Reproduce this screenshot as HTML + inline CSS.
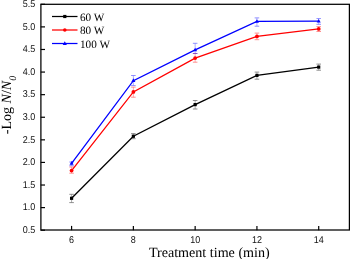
<!DOCTYPE html><html><head><meta charset="utf-8"><style>html,body{margin:0;padding:0;background:#fff;width:350px;height:259px;overflow:hidden}svg{display:block;will-change:transform;text-rendering:geometricPrecision}</style></head><body>
<svg width="350" height="259" viewBox="0 0 350 259">
<rect x="40.9" y="4.3" width="308.5" height="225.7" fill="none" stroke="#000" stroke-width="1.25"/>
<line x1="40.7" y1="230.20" x2="45.00" y2="230.20" stroke="#000" stroke-width="1.2"/>
<text transform="translate(35.3,233.00) scale(1,1.1)" text-anchor="end" style="font-family:&quot;Liberation Sans&quot;,sans-serif" font-size="9" fill="#111">0.5</text>
<line x1="40.7" y1="207.61" x2="45.00" y2="207.61" stroke="#000" stroke-width="1.2"/>
<text transform="translate(35.3,210.41) scale(1,1.1)" text-anchor="end" style="font-family:&quot;Liberation Sans&quot;,sans-serif" font-size="9" fill="#111">1.0</text>
<line x1="40.7" y1="185.02" x2="45.00" y2="185.02" stroke="#000" stroke-width="1.2"/>
<text transform="translate(35.3,187.82) scale(1,1.1)" text-anchor="end" style="font-family:&quot;Liberation Sans&quot;,sans-serif" font-size="9" fill="#111">1.5</text>
<line x1="40.7" y1="162.43" x2="45.00" y2="162.43" stroke="#000" stroke-width="1.2"/>
<text transform="translate(35.3,165.23) scale(1,1.1)" text-anchor="end" style="font-family:&quot;Liberation Sans&quot;,sans-serif" font-size="9" fill="#111">2.0</text>
<line x1="40.7" y1="139.84" x2="45.00" y2="139.84" stroke="#000" stroke-width="1.2"/>
<text transform="translate(35.3,142.64) scale(1,1.1)" text-anchor="end" style="font-family:&quot;Liberation Sans&quot;,sans-serif" font-size="9" fill="#111">2.5</text>
<line x1="40.7" y1="117.25" x2="45.00" y2="117.25" stroke="#000" stroke-width="1.2"/>
<text transform="translate(35.3,120.05) scale(1,1.1)" text-anchor="end" style="font-family:&quot;Liberation Sans&quot;,sans-serif" font-size="9" fill="#111">3.0</text>
<line x1="40.7" y1="94.66" x2="45.00" y2="94.66" stroke="#000" stroke-width="1.2"/>
<text transform="translate(35.3,97.46) scale(1,1.1)" text-anchor="end" style="font-family:&quot;Liberation Sans&quot;,sans-serif" font-size="9" fill="#111">3.5</text>
<line x1="40.7" y1="72.07" x2="45.00" y2="72.07" stroke="#000" stroke-width="1.2"/>
<text transform="translate(35.3,74.87) scale(1,1.1)" text-anchor="end" style="font-family:&quot;Liberation Sans&quot;,sans-serif" font-size="9" fill="#111">4.0</text>
<line x1="40.7" y1="49.48" x2="45.00" y2="49.48" stroke="#000" stroke-width="1.2"/>
<text transform="translate(35.3,52.28) scale(1,1.1)" text-anchor="end" style="font-family:&quot;Liberation Sans&quot;,sans-serif" font-size="9" fill="#111">4.5</text>
<line x1="40.7" y1="26.89" x2="45.00" y2="26.89" stroke="#000" stroke-width="1.2"/>
<text transform="translate(35.3,29.69) scale(1,1.1)" text-anchor="end" style="font-family:&quot;Liberation Sans&quot;,sans-serif" font-size="9" fill="#111">5.0</text>
<line x1="40.7" y1="4.30" x2="45.00" y2="4.30" stroke="#000" stroke-width="1.2"/>
<text transform="translate(35.3,7.10) scale(1,1.1)" text-anchor="end" style="font-family:&quot;Liberation Sans&quot;,sans-serif" font-size="9" fill="#111">5.5</text>
<line x1="71.59" y1="230.2" x2="71.59" y2="225.90" stroke="#000" stroke-width="1.2"/>
<text transform="translate(71.59,242.7) scale(1,1.1)" text-anchor="middle" style="font-family:&quot;Liberation Sans&quot;,sans-serif" font-size="9" fill="#111">6</text>
<line x1="133.37" y1="230.2" x2="133.37" y2="225.90" stroke="#000" stroke-width="1.2"/>
<text transform="translate(133.37,242.7) scale(1,1.1)" text-anchor="middle" style="font-family:&quot;Liberation Sans&quot;,sans-serif" font-size="9" fill="#111">8</text>
<line x1="195.15" y1="230.2" x2="195.15" y2="225.90" stroke="#000" stroke-width="1.2"/>
<text transform="translate(195.15,242.7) scale(1,1.1)" text-anchor="middle" style="font-family:&quot;Liberation Sans&quot;,sans-serif" font-size="9" fill="#111">10</text>
<line x1="256.93" y1="230.2" x2="256.93" y2="225.90" stroke="#000" stroke-width="1.2"/>
<text transform="translate(256.93,242.7) scale(1,1.1)" text-anchor="middle" style="font-family:&quot;Liberation Sans&quot;,sans-serif" font-size="9" fill="#111">12</text>
<line x1="318.71" y1="230.2" x2="318.71" y2="225.90" stroke="#000" stroke-width="1.2"/>
<text transform="translate(318.71,242.7) scale(1,1.1)" text-anchor="middle" style="font-family:&quot;Liberation Sans&quot;,sans-serif" font-size="9" fill="#111">14</text>
<g stroke="#000000" stroke-width="0.8" opacity="0.55"><line x1="71.59" y1="194.3" x2="71.59" y2="202.6" stroke-width="0.6"/><line x1="69.29" y1="194.3" x2="73.89" y2="194.3"/><line x1="69.29" y1="202.6" x2="73.89" y2="202.6"/></g>
<g stroke="#000000" stroke-width="0.8" opacity="0.55"><line x1="133.37" y1="133.6" x2="133.37" y2="138.7" stroke-width="0.6"/><line x1="131.07" y1="133.6" x2="135.67" y2="133.6"/><line x1="131.07" y1="138.7" x2="135.67" y2="138.7"/></g>
<g stroke="#000000" stroke-width="0.8" opacity="0.55"><line x1="195.15" y1="100.5" x2="195.15" y2="109.0" stroke-width="0.6"/><line x1="192.85" y1="100.5" x2="197.45" y2="100.5"/><line x1="192.85" y1="109.0" x2="197.45" y2="109.0"/></g>
<g stroke="#000000" stroke-width="0.8" opacity="0.55"><line x1="256.93" y1="72.1" x2="256.93" y2="79.2" stroke-width="0.6"/><line x1="254.63" y1="72.1" x2="259.23" y2="72.1"/><line x1="254.63" y1="79.2" x2="259.23" y2="79.2"/></g>
<g stroke="#000000" stroke-width="0.8" opacity="0.55"><line x1="318.71" y1="64.1" x2="318.71" y2="70.2" stroke-width="0.6"/><line x1="316.41" y1="64.1" x2="321.01" y2="64.1"/><line x1="316.41" y1="70.2" x2="321.01" y2="70.2"/></g>
<g stroke="#ff0000" stroke-width="0.8" opacity="0.55"><line x1="71.59" y1="167.0" x2="71.59" y2="173.2" stroke-width="0.6"/><line x1="69.29" y1="167.0" x2="73.89" y2="167.0"/><line x1="69.29" y1="173.2" x2="73.89" y2="173.2"/></g>
<g stroke="#ff0000" stroke-width="0.8" opacity="0.55"><line x1="133.37" y1="87.1" x2="133.37" y2="97.2" stroke-width="0.6"/><line x1="131.07" y1="87.1" x2="135.67" y2="87.1"/><line x1="131.07" y1="97.2" x2="135.67" y2="97.2"/></g>
<g stroke="#ff0000" stroke-width="0.8" opacity="0.55"><line x1="195.15" y1="53.5" x2="195.15" y2="62.2" stroke-width="0.6"/><line x1="192.85" y1="53.5" x2="197.45" y2="53.5"/><line x1="192.85" y1="62.2" x2="197.45" y2="62.2"/></g>
<g stroke="#ff0000" stroke-width="0.8" opacity="0.55"><line x1="256.93" y1="33.1" x2="256.93" y2="39.7" stroke-width="0.6"/><line x1="254.63" y1="33.1" x2="259.23" y2="33.1"/><line x1="254.63" y1="39.7" x2="259.23" y2="39.7"/></g>
<g stroke="#ff0000" stroke-width="0.8" opacity="0.55"><line x1="318.71" y1="26.6" x2="318.71" y2="31.5" stroke-width="0.6"/><line x1="316.41" y1="26.6" x2="321.01" y2="26.6"/><line x1="316.41" y1="31.5" x2="321.01" y2="31.5"/></g>
<g stroke="#0000ff" stroke-width="0.8" opacity="0.55"><line x1="71.59" y1="162.0" x2="71.59" y2="165.7" stroke-width="0.6"/><line x1="69.29" y1="162.0" x2="73.89" y2="162.0"/><line x1="69.29" y1="165.7" x2="73.89" y2="165.7"/></g>
<g stroke="#0000ff" stroke-width="0.8" opacity="0.55"><line x1="133.37" y1="75.5" x2="133.37" y2="85.6" stroke-width="0.6"/><line x1="131.07" y1="75.5" x2="135.67" y2="75.5"/><line x1="131.07" y1="85.6" x2="135.67" y2="85.6"/></g>
<g stroke="#0000ff" stroke-width="0.8" opacity="0.55"><line x1="195.15" y1="43.3" x2="195.15" y2="53.5" stroke-width="0.6"/><line x1="192.85" y1="43.3" x2="197.45" y2="43.3"/><line x1="192.85" y1="53.5" x2="197.45" y2="53.5"/></g>
<g stroke="#0000ff" stroke-width="0.8" opacity="0.55"><line x1="256.93" y1="17.9" x2="256.93" y2="26.2" stroke-width="0.6"/><line x1="254.63" y1="17.9" x2="259.23" y2="17.9"/><line x1="254.63" y1="26.2" x2="259.23" y2="26.2"/></g>
<g stroke="#0000ff" stroke-width="0.8" opacity="0.55"><line x1="318.71" y1="18.4" x2="318.71" y2="24.3" stroke-width="0.6"/><line x1="316.41" y1="18.4" x2="321.01" y2="18.4"/><line x1="316.41" y1="24.3" x2="321.01" y2="24.3"/></g>
<polyline points="71.59,198.30 133.37,136.23 195.15,104.60 256.93,75.41 318.71,67.10" fill="none" stroke="#000000" stroke-width="1.3"/>
<rect x="69.99" y="196.70" width="3.2" height="3.2" fill="#000"/>
<rect x="131.77" y="134.63" width="3.2" height="3.2" fill="#000"/>
<rect x="193.55" y="103.00" width="3.2" height="3.2" fill="#000"/>
<rect x="255.33" y="73.81" width="3.2" height="3.2" fill="#000"/>
<rect x="317.11" y="65.50" width="3.2" height="3.2" fill="#000"/>
<polyline points="71.59,170.56 133.37,91.95 195.15,58.06 256.93,36.38 318.71,28.92" fill="none" stroke="#ff0000" stroke-width="1.3"/>
<circle cx="71.59" cy="170.56" r="1.9" fill="#f00"/>
<circle cx="133.37" cy="91.95" r="1.9" fill="#f00"/>
<circle cx="195.15" cy="58.06" r="1.9" fill="#f00"/>
<circle cx="256.93" cy="36.38" r="1.9" fill="#f00"/>
<circle cx="318.71" cy="28.92" r="1.9" fill="#f00"/>
<polyline points="71.59,163.33 133.37,80.65 195.15,49.93 256.93,21.47 318.71,21.20" fill="none" stroke="#0000ff" stroke-width="1.3"/>
<path d="M71.59,161.03 L73.59,164.73 L69.59,164.73 Z" fill="#00f"/>
<path d="M133.37,78.35 L135.37,82.05 L131.37,82.05 Z" fill="#00f"/>
<path d="M195.15,47.63 L197.15,51.33 L193.15,51.33 Z" fill="#00f"/>
<path d="M256.93,19.17 L258.93,22.87 L254.93,22.87 Z" fill="#00f"/>
<path d="M318.71,18.90 L320.71,22.60 L316.71,22.60 Z" fill="#00f"/>
<line x1="52" y1="16.5" x2="77.5" y2="16.5" stroke="#000000" stroke-width="1.25"/>
<rect x="63.20" y="14.90" width="3.2" height="3.2" fill="#000"/>
<text x="80" y="20.50" style="font-family:&quot;Liberation Serif&quot;,serif" font-size="11.2" fill="#000">60 W</text>
<line x1="52" y1="30.0" x2="77.5" y2="30.0" stroke="#ff0000" stroke-width="1.25"/>
<circle cx="64.80" cy="30.00" r="1.8" fill="#f00"/>
<text x="80" y="34.00" style="font-family:&quot;Liberation Serif&quot;,serif" font-size="11.2" fill="#000">80 W</text>
<line x1="52" y1="43.5" x2="77.5" y2="43.5" stroke="#0000ff" stroke-width="1.25"/>
<path d="M64.80,41.30 L66.90,44.90 L62.70,44.90 Z" fill="#00f"/>
<text x="80" y="47.50" style="font-family:&quot;Liberation Serif&quot;,serif" font-size="11.2" fill="#000">100 W</text>
<text x="209.3" y="256.6" text-anchor="middle" style="font-family:&quot;Liberation Serif&quot;,serif" font-size="14.1" fill="#000">Treatment time (min)</text>
<text transform="translate(11,105.0) rotate(-90)" text-anchor="middle" style="font-family:&quot;Liberation Serif&quot;,serif" font-size="14" fill="#000">-Log <tspan font-style="italic">N</tspan>/<tspan font-style="italic">N</tspan><tspan font-size="10" font-style="italic" dy="5.3">0</tspan></text>
</svg></body></html>
